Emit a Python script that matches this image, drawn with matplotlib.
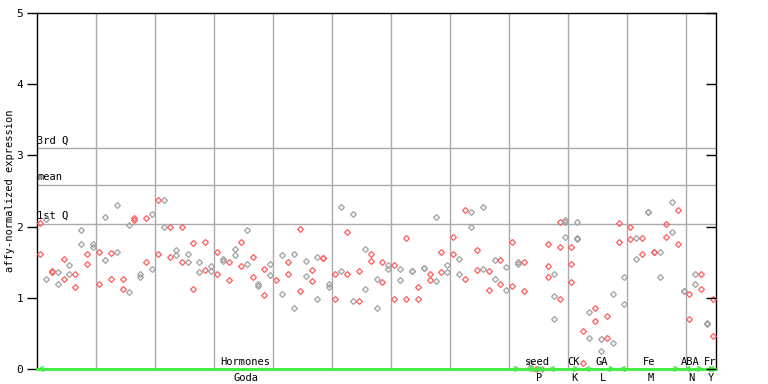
import numpy as np
import matplotlib
matplotlib.use("Agg")
import matplotlib.pyplot as plt
from matplotlib.transforms import blended_transform_factory

# values per sample column, several points per column
col_values = [
    [2.05, 1.61], [2.10, 1.26], [1.38, 1.36], [1.36, 1.19], [1.54, 1.27],
    [1.46, 1.33], [1.33, 1.15], [1.95, 1.76], [1.61, 1.47], [1.76, 1.72],
    [1.65, 1.20], [2.14, 1.53], [1.63, 1.27], [2.30, 1.64], [1.26, 1.13],
    [2.02, 1.08], [2.12, 2.09], [1.34, 1.29], [2.12, 1.50], [2.17, 1.40],
    [2.38, 1.62], [2.38, 1.99], [2.00, 1.58], [1.67, 1.60], [1.99, 1.50],
    [1.62, 1.50], [1.77, 1.13], [1.50, 1.36], [1.79, 1.39], [1.44, 1.37],
    [1.65, 1.34], [1.54, 1.51], [1.50, 1.25], [1.68, 1.60], [1.78, 1.44],
    [1.95, 1.48], [1.58, 1.29], [1.19, 1.16], [1.41, 1.04], [1.47, 1.32],
    [1.25], [1.60, 1.06], [1.50, 1.34], [1.61, 0.85], [1.96, 1.10],
    [1.51, 1.30], [1.39, 1.23], [1.57, 0.98], [1.56, 1.56], [1.20, 1.15],
    [1.33, 0.99], [2.28, 1.37], [1.93, 1.33], [2.17, 0.96], [1.37, 0.96],
    [1.68, 1.13], [1.61, 1.51], [1.27, 0.85], [1.50, 1.22], [1.46, 1.40],
    [1.46, 0.99], [1.41, 1.25], [1.84, 0.98], [1.37, 1.37], [1.15, 0.99],
    [1.42, 1.42], [1.34, 1.25], [2.14, 1.23], [1.65, 1.36], [1.46, 1.36],
    [1.85, 1.61], [1.55, 1.34], [2.24, 1.26], [2.21, 2.00], [1.67, 1.39],
    [2.28, 1.41], [1.37, 1.11], [1.53, 1.27], [1.53, 1.19], [1.43, 1.11],
    [1.78, 1.16], [1.50, 1.47], [1.50, 1.09], [0.08, 0.01], [0.0],
    [0.0], [1.75, 1.44, 1.29], [1.34, 1.02, 0.70], [2.07, 1.71, 0.98], [2.09, 2.07, 1.86],
    [1.71, 1.47, 1.22], [2.07, 1.84, 1.83], [0.53, 0.08], [0.80, 0.43], [0.85, 0.68],
    [0.42, 0.25], [0.75, 0.43], [1.06, 0.36], [2.05, 1.79], [1.29, 0.91],
    [2.00, 1.82], [1.84, 1.55], [1.84, 1.62], [2.20, 2.20], [1.64, 1.64],
    [1.64, 1.29], [2.03, 1.86], [2.34, 1.93], [2.24, 1.75], [1.09, 1.09],
    [1.06, 0.70], [1.34, 1.20], [1.34, 1.13], [0.65, 0.63], [0.99, 0.46],
]

quartiles = {"3rd Q": 3.10, "mean": 2.58, "1st Q": 2.04}

top_labels = ["Hormones", "seed", "CK", "GA", "Fe", "ABA", "Fr"]
bottom_labels = ["Goda", "P", "K", "L", "M", "N", "Y"]
group_ranges = [(-0.5, 81.5), (82.5, 85.5), (86, 91.5), (92, 97.5),
                (98, 108.5), (109, 112.5), (113, 114.5)]

RED = "#ff5c5c"
GRAY = "#a0a0a0"
GREEN = "#44ee44"
MONO = "DejaVu Sans Mono"

n_cols = len(col_values)
xs, ys, cs = [], [], []
for i, vals in enumerate(col_values):
    for v in vals:
        xs.append(i)
        ys.append(v)
        cs.append(RED if i % 2 == 0 else GRAY)

fig = plt.figure(figsize=(7.68, 3.84), dpi=100)
ax = fig.add_axes([37/768, 15/384, 679/768, 356/384])
ax.set_xlim(-0.5, n_cols - 0.5)
ax.set_ylim(0, 5)

# vertical grid every 10 columns
for gx in np.arange(9.5, n_cols - 1, 10):
    ax.axvline(gx, color="#aaaaaa", lw=1, zorder=0)

# quartile lines
tr = blended_transform_factory(ax.transAxes, ax.transData)
for name, val in quartiles.items():
    ax.axhline(val, color="#aaaaaa", lw=1, zorder=0)
    ax.text(0.0, val + 0.04, name, transform=tr, ha="left", va="bottom",
            fontsize=7.5, family=MONO, color="black")

for x, y, c in zip(xs, ys, cs):
    ax.plot(x, y, marker="D", ms=3.0, mfc="none", mec=c, mew=0.9,
            ls="none", clip_on=False, zorder=3)

# green group arrows along the bottom
ax.axhline(0, color=GREEN, lw=2, zorder=4, clip_on=False)
for (a, b) in group_ranges:
    ax.annotate("", xy=(a, 0), xytext=(b, 0), xycoords="data",
                arrowprops=dict(arrowstyle="<->", color=GREEN, lw=1.2,
                                mutation_scale=8, shrinkA=0, shrinkB=0),
                annotation_clip=False, zorder=5)

label_x = [34.7, 84.3, 90.3, 95.2, 103.2, 110.2, 113.5]
trx = blended_transform_factory(ax.transData, ax.transAxes)
for lx, t, b in zip(label_x, top_labels, bottom_labels):
    ax.text(lx, 0.006, t, transform=trx, ha="center", va="bottom",
            fontsize=7.5, family=MONO, zorder=6)
    ax.text(lx + 0.2, -0.012, b, transform=trx, ha="center", va="top",
            fontsize=7.5, family=MONO)

ax.set_xticks([])
ax.set_yticks(range(6))
ax.set_yticklabels([str(v) for v in range(6)], family=MONO, fontsize=8)
ax.tick_params(axis="y", direction="out", length=7, width=1, pad=3)
for s in ax.spines.values():
    s.set_color("black")
    s.set_linewidth(1)

ax2 = ax.twinx()
ax2.set_ylim(0, 5)
ax2.set_yticks(range(6))
ax2.tick_params(axis="y", direction="in", length=7, width=1, labelright=False)
ax2.set_xticks([])
for s in ax2.spines.values():
    s.set_visible(False)

ax.set_ylabel("affy-normalized expression", family=MONO, fontsize=7.5, labelpad=1)

fig.savefig("out.png", dpi=100)
